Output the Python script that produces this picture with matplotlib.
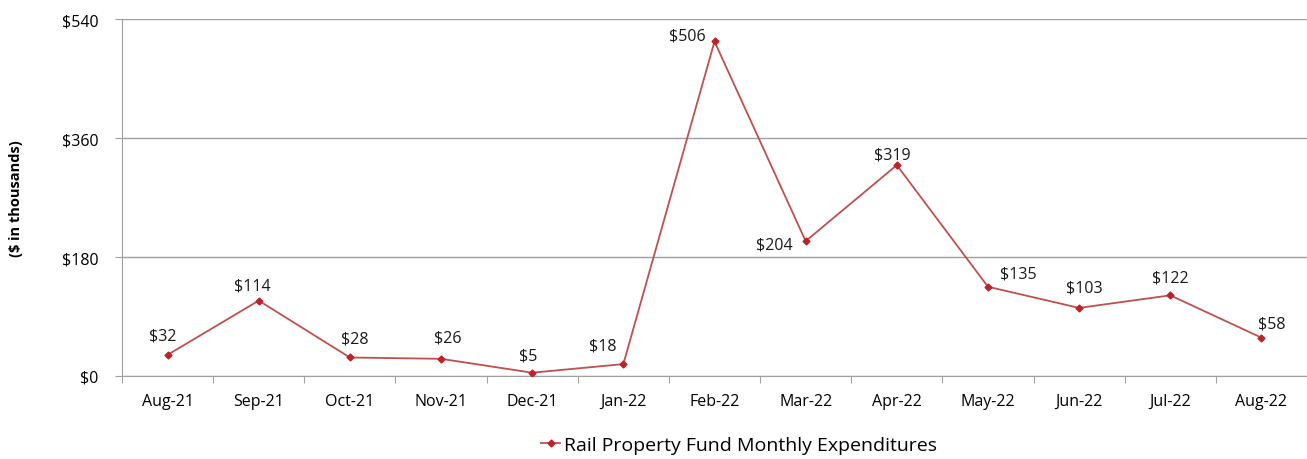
import numpy as np
import matplotlib.pyplot as plt

plt.rcParams['font.family'] = ['Open Sans', 'DejaVu Sans']

months = ['Aug-21', 'Sep-21', 'Oct-21', 'Nov-21', 'Dec-21', 'Jan-22', 'Feb-22',
          'Mar-22', 'Apr-22', 'May-22', 'Jun-22', 'Jul-22', 'Aug-22']
spend = [32, 114, 28, 26, 5, 18, 506, 204, 319, 135, 103, 122, 58]
y_ticks = [0, 180, 360, 540]

# label offsets in pixels (dx, dy)
offsets = [(-5, 19), (-6, 15), (5, 19), (7, 21), (-4, 17), (-21, 19), (-27, 6),
           (-31, -3), (-4, 11), (30, 13), (5, 20), (0, 18), (10, 14)]

fig = plt.figure(figsize=(13.07, 4.6), dpi=100)
ax = fig.add_axes([122/1307, 1-377/460, 1185/1307, 357/460])

x = np.arange(len(months)) + 0.5
line_c = '#C0504D'
ax.plot(x, spend, color=line_c, lw=1.3, marker='D', ms=3.5,
        mfc='#C0202A', mec='#C0202A', label='Rail Property Fund Monthly Expenditures',
        zorder=3)

for xi, v, (dx, dy) in zip(x, spend, offsets):
    ax.annotate('$%d' % v, (xi, v), xytext=(dx, dy), textcoords='offset pixels',
                ha='center', va='center', fontsize=11.5, color='#1a1a1a')

ax.set_xlim(0, len(months))
ax.set_ylim(0, 540)
ax.set_yticks(y_ticks)
ax.set_yticklabels(['$%d' % t for t in y_ticks], fontsize=11.5)
ax.set_xticks(np.arange(len(months) + 1))
ax.set_xticklabels([])
ax.set_xticks(x, minor=True)
ax.set_xticklabels(months, minor=True, fontsize=11.5)
ax.tick_params(axis='x', which='minor', length=0, pad=12)
ax.tick_params(axis='x', which='major', length=5, color='#A0A0A0')
ax.tick_params(axis='y', length=5, color='#A0A0A0', pad=12)

ax.yaxis.grid(True, color='#A0A0A0', lw=1)
ax.set_axisbelow(True)
for s in ['top', 'right']:
    ax.spines[s].set_visible(False)
for s in ['left', 'bottom']:
    ax.spines[s].set_color('#A0A0A0')

ax.set_ylabel('($ in thousands)', fontsize=10.5, fontweight='bold', labelpad=28)

fig.legend(*ax.get_legend_handles_labels(), loc='center',
           bbox_to_anchor=(739/1307, 1 - 446/460), frameon=False,
           fontsize=14, handlelength=1.0, handletextpad=0.2)

fig.savefig('out.png', dpi=100)
